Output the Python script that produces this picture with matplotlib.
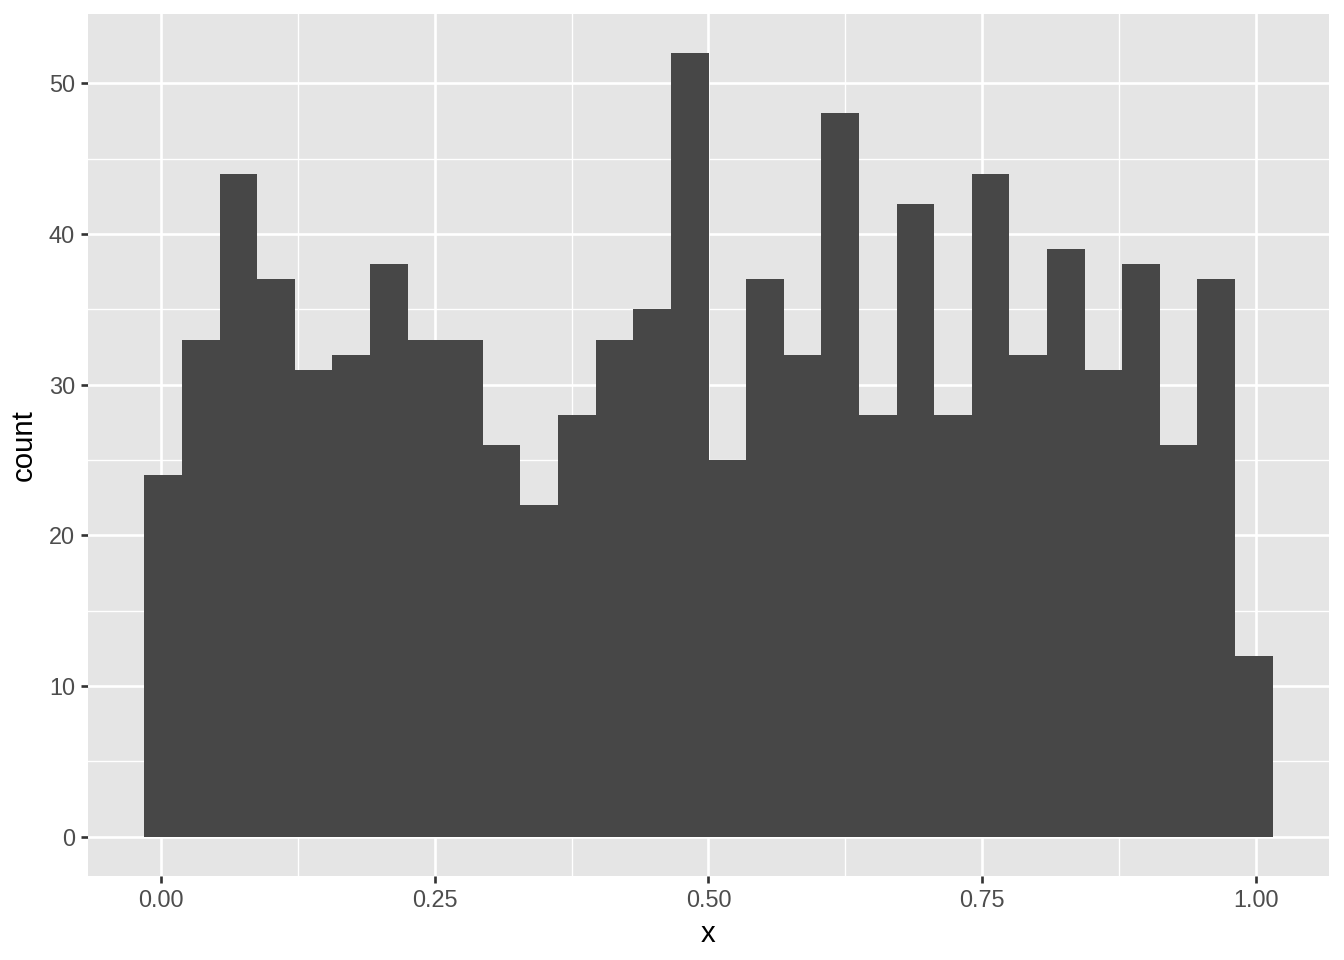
import matplotlib
matplotlib.use("Agg")
import matplotlib.pyplot as plt
import numpy as np

# Histogram data (30 bins)
bin_start = -0.0155
bin_width = 0.03437
counts = [24, 33, 44, 37, 31, 32, 38, 33, 33, 26, 22, 28, 33, 35, 52,
          25, 37, 32, 48, 28, 42, 28, 44, 32, 39, 31, 38, 26, 37, 12]
x_breaks = [0.0, 0.25, 0.5, 0.75, 1.0]
x_labels = ["0.00", "0.25", "0.50", "0.75", "1.00"]
y_breaks = [0, 10, 20, 30, 40, 50]
x_minor = [0.125, 0.375, 0.625, 0.875]
y_minor = [5, 15, 25, 35, 45]

plt.rcParams['font.family'] = ['Liberation Sans', 'DejaVu Sans']

fig = plt.figure(figsize=(7, 5), dpi=192)
W, H = 1344, 960
ax = fig.add_axes([88/W, (H-876)/H, (1329-88)/W, (876-14)/H])
ax.set_facecolor('#E5E5E5')

edges = bin_start + bin_width*np.arange(len(counts) + 1)
ax.stairs(counts, edges, fill=True, color='#474747', linewidth=0, zorder=3)

xmin = edges[0]
xmax = edges[-1]
xr = xmax - xmin
ax.set_xlim(xmin - 0.05*xr, xmax + 0.05*xr)
ymax = max(counts)
ax.set_ylim(-0.05*ymax, ymax*1.05)

for v in x_minor:
    ax.axvline(v, color='white', lw=0.5, zorder=1)
for v in y_minor:
    ax.axhline(v, color='white', lw=0.5, zorder=1)
for v in x_breaks:
    ax.axvline(v, color='white', lw=1.0, zorder=2)
for v in y_breaks:
    ax.axhline(v, color='white', lw=1.0, zorder=2)

ax.set_xticks(x_breaks)
ax.set_xticklabels(x_labels)
ax.set_yticks(y_breaks)
ax.tick_params(axis='both', length=2.75, width=1.0, color='#333333',
               labelsize=8.8, labelcolor='#4D4D4D', pad=2.2)
for s in ax.spines.values():
    s.set_visible(False)

ax.set_xlabel('x', fontsize=11, color='black', labelpad=3)
ax.set_ylabel('count', fontsize=11, color='black', labelpad=4)

fig.savefig('out.png', dpi=192)
